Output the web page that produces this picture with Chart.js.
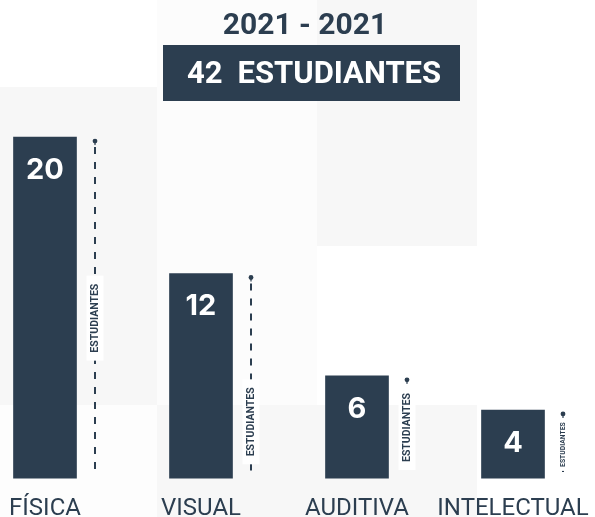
<!DOCTYPE html>
<html><head><meta charset="utf-8">
<style>html,body{margin:0;padding:0;background:#fff}#wrap{width:595px;height:517px;position:relative}</style>
<script src="https://cdn.jsdelivr.net/npm/chart.js@4.4.0/dist/chart.umd.min.js"></script>
</head><body><div id="wrap"><canvas id="c" width="595" height="517"></canvas></div>
<script>
// ---- data ----
const categories = ['FÍSICA', 'VISUAL', 'AUDITIVA', 'INTELECTUAL'];
const students = [20, 12, 6, 4];
const periodLabel = '2021 - 2021';
const totalCount = '42';
const totalWord = 'ESTUDIANTES';
const unitLabel = 'ESTUDIANTES';

// ---- style ----
const NAVY = '#2c3e50';
const tileCols = [0, 157, 317, 477, 595];
const tileRows = [0, 87, 246, 405, 517];
const tileColors = [
  ['#ffffff', '#fcfcfc', '#f7f7f7', '#ffffff'],
  ['#f7f7f7', '#fcfcfc', '#f7f7f7', '#ffffff'],
  ['#f7f7f7', '#fcfcfc', '#ffffff', '#ffffff'],
  ['#fdfdfd', '#f7f7f7', '#f7f7f7', '#ffffff']
];
const unitLabelFrac = [0.53, 0.73, 0.5, 0.5];

const backgroundPlugin = {
  id: 'bgTiles',
  beforeDraw(chart) {
    const ctx = chart.ctx;
    ctx.save();
    ctx.fillStyle = '#ffffff';
    ctx.fillRect(0, 0, chart.width, chart.height);
    for (let r = 0; r < 4; r++) {
      for (let c = 0; c < 4; c++) {
        ctx.fillStyle = tileColors[r][c];
        ctx.fillRect(tileCols[c], tileRows[r], tileCols[c + 1] - tileCols[c], tileRows[r + 1] - tileRows[r]);
      }
    }
    // header
    ctx.fillStyle = NAVY;
    ctx.font = '700 30px Roboto';
    ctx.textAlign = 'center';
    ctx.textBaseline = 'middle';
    ctx.fillText(periodLabel, 305, 26);
    ctx.fillRect(163, 45, 297, 56);
    ctx.fillStyle = '#ffffff';
    ctx.font = '700 31px Roboto';
    ctx.textAlign = 'left';
    const wNum = ctx.measureText(totalCount).width;
    const wWord = ctx.measureText(totalWord).width;
    const gap = 15;
    const x0 = 314 - (wNum + gap + wWord) / 2;
    ctx.fillText(totalCount, x0, 75);
    ctx.fillText(totalWord, x0 + wNum + gap, 75);
    ctx.restore();
  }
};

const annotPlugin = {
  id: 'barAnnotations',
  afterDatasetsDraw(chart) {
    const ctx = chart.ctx;
    const meta = chart.getDatasetMeta(0);
    meta.data.forEach((bar, i) => {
      const p = bar.getProps(['x', 'y', 'base', 'width'], true);
      const h = p.base - p.y;
      ctx.save();
      // value inside bar
      ctx.fillStyle = '#ffffff';
      ctx.font = '700 29px Inter';
      ctx.textAlign = 'center';
      ctx.textBaseline = 'middle';
      ctx.fillText(String(students[i]), p.x, p.y + Math.min(33, h / 2));
      // dashed guide
      const lx = Math.round(p.x + p.width / 2 + 18);
      const top = p.y + 4;
      const bottom = p.base - 3;
      ctx.strokeStyle = NAVY;
      ctx.lineWidth = 2;
      ctx.setLineDash([7, 8]);
      ctx.beginPath();
      ctx.moveTo(lx, top + 6);
      ctx.lineTo(lx, bottom);
      ctx.stroke();
      ctx.setLineDash([]);
      ctx.fillStyle = NAVY;
      ctx.beginPath();
      ctx.arc(lx, top, 2.4, 0, Math.PI * 2);
      ctx.fill();
      ctx.fillRect(lx - 0.6, top, 1.2, 4);
      // rotated unit label
      const small = h < 80;
      const fs = small ? 6.8 : 10.5;
      ctx.font = '700 ' + fs + 'px Roboto';
      const tw = ctx.measureText(unitLabel).width;
      const len = tw + (small ? 8 : 16);
      const bw = small ? 12 : 17;
      const cy = top + (bottom - top) * unitLabelFrac[i];
      ctx.fillStyle = '#ffffff';
      ctx.fillRect(lx - bw / 2, cy - len / 2, bw, len);
      ctx.translate(lx, cy);
      ctx.rotate(-Math.PI / 2);
      ctx.fillStyle = NAVY;
      ctx.textAlign = 'center';
      ctx.textBaseline = 'middle';
      ctx.fillText(unitLabel, 0, 0.5);
      ctx.restore();
    });
  }
};

new Chart(document.getElementById('c'), {
  type: 'bar',
  data: {
    labels: categories,
    datasets: [{
      data: students,
      backgroundColor: NAVY,
      borderWidth: 0,
      barThickness: 63,
      clip: false
    }]
  },
  options: {
    responsive: false,
    animation: false,
    devicePixelRatio: 1,
    layout: { padding: { left: 45, right: 82, top: 120, bottom: -22 } },
    plugins: { legend: { display: false }, tooltip: { enabled: false }, title: { display: false } },
    scales: {
      x: {
        offset: false,
        afterFit(scale) { scale.paddingLeft = 0; scale.paddingRight = 0; },
        grid: { display: false, drawTicks: false },
        border: { display: false },
        ticks: { color: NAVY, font: { family: 'Roboto', size: 24 }, padding: 16, maxRotation: 0, autoSkip: false }
      },
      y: { display: false, min: 0, max: 21 }
    }
  },
  plugins: [backgroundPlugin, annotPlugin]
});
</script>
</body></html>
